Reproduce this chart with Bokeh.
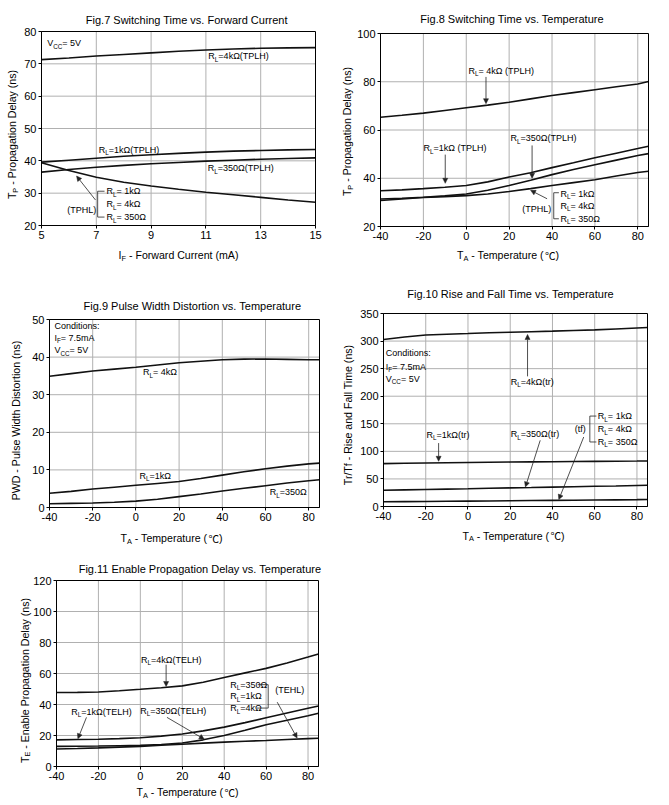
import re
from bokeh.plotting import figure
from bokeh.models import Range1d, FixedTicker, Label, Arrow, NormalHead, BoxAnnotation
from bokeh.layouts import column, row
from bokeh.embed import file_html
from bokeh.resources import INLINE

FONT = "Liberation Sans"
CJK = "Noto Sans CJK SC"

# ---------------- data ----------------
# Fig.7  (forward current, mA)
if_ma = [5, 6, 7, 8, 9, 10, 11, 12, 13, 14, 15]
f7_4k_tplh = [71.3, 71.8, 72.4, 72.9, 73.4, 73.9, 74.3, 74.6, 74.8, 74.95, 75.0]
f7_1k_tplh = [39.6, 40.2, 40.8, 41.4, 41.9, 42.3, 42.7, 43.0, 43.2, 43.4, 43.5]
f7_350_tplh = [36.5, 37.3, 38.0, 38.6, 39.1, 39.5, 39.9, 40.2, 40.5, 40.7, 40.9]
f7_tphl = [39.4, 37.0, 34.9, 33.4, 32.2, 31.2, 30.3, 29.5, 28.7, 27.9, 27.2]

# temperature axis (deg C) shared by Fig.8 - Fig.11
temp_c = [-40, -30, -20, -10, 0, 10, 20, 30, 40, 50, 60, 70, 80, 85]

# Fig.8
f8_4k_tplh = [65.3, 66.1, 67.0, 68.1, 69.2, 70.3, 71.5, 72.9, 74.3, 75.5, 76.7, 77.9, 79.1, 80.1]
f8_1k_tplh = [34.8, 35.2, 35.7, 36.3, 37.0, 38.5, 40.5, 42.3, 44.4, 46.4, 48.5, 50.4, 52.3, 53.3]
f8_350_tplh = [31.4, 31.7, 32.1, 32.7, 33.5, 35.0, 37.0, 39.2, 41.5, 43.6, 45.6, 47.5, 49.4, 50.2]
f8_tphl = [30.8, 31.4, 32.0, 32.4, 32.8, 33.5, 34.5, 35.7, 37.0, 38.2, 39.4, 40.9, 42.4, 42.9]

# Fig.9
f9_4k = [34.9, 35.6, 36.3, 36.8, 37.3, 37.9, 38.5, 38.9, 39.3, 39.45, 39.5, 39.4, 39.3, 39.3]
f9_1k = [3.8, 4.3, 4.9, 5.4, 5.9, 6.4, 6.9, 7.7, 8.6, 9.5, 10.3, 11.0, 11.6, 11.8]
f9_350 = [1.0, 1.1, 1.2, 1.4, 1.7, 2.2, 2.9, 3.6, 4.4, 5.1, 5.8, 6.5, 7.1, 7.4]

# Fig.10
f10_4k_tr = [302.8, 307.5, 311.0, 312.5, 313.7, 315.0, 316.0, 317.0, 318.0, 319.2, 320.3, 322.0, 323.8, 324.6]
f10_1k_tr = [77.8, 78.3, 78.8, 79.3, 79.8, 80.2, 80.6, 80.9, 81.2, 81.5, 81.8, 82.1, 82.4, 82.6]
f10_350_tr = [29.4, 30.1, 30.8, 31.5, 32.2, 33.0, 33.7, 34.4, 35.2, 35.9, 36.6, 37.3, 38.1, 38.5]
f10_tf = [8.5, 8.8, 9.1, 9.5, 9.8, 10.1, 10.5, 10.8, 11.1, 11.4, 11.7, 12.1, 12.5, 12.8]

# Fig.11
f11_4k_telh = [47.7, 47.8, 48.1, 48.9, 49.8, 50.8, 52.0, 54.3, 57.4, 60.4, 63.3, 66.8, 70.6, 72.6]
f11_1k_telh = [17.2, 17.4, 17.6, 18.0, 18.5, 19.6, 21.0, 23.0, 25.4, 28.3, 31.4, 34.5, 37.6, 39.0]
f11_350_telh = [13.0, 13.1, 13.2, 13.4, 13.6, 14.2, 15.2, 17.2, 20.0, 23.4, 26.9, 29.8, 32.8, 34.4]
f11_tehl = [11.3, 11.6, 12.0, 12.5, 13.0, 13.7, 14.4, 15.1, 15.7, 16.3, 16.8, 17.4, 18.0, 18.2]

# ticks
f7_xticks = [5, 7, 9, 11, 13, 15]
f7_yticks = [20, 30, 40, 50, 60, 70, 80]
temp_ticks = [-40, -20, 0, 20, 40, 60, 80]
f8_yticks = [20, 40, 60, 80, 100]
f9_yticks = [0, 10, 20, 30, 40, 50]
f10_yticks = [0, 50, 100, 150, 200, 250, 300, 350]
f11_yticks = [0, 20, 40, 60, 80, 100, 120]

# ---------------- helpers ----------------
W = {" ": .278, "!": .278, "(": .333, ")": .333, "-": .333, ".": .278, ":": .278, "=": .584,
     "/": .278, "A": .667, "C": .722, "D": .722, "E": .667, "F": .611, "H": .722, "I": .278,
     "L": .556, "P": .667, "R": .722, "S": .667, "T": .611, "V": .667, "W": .944,
     "a": .556, "b": .556, "c": .5, "d": .556, "e": .556, "f": .278, "g": .556, "h": .556,
     "i": .222, "k": .5, "l": .222, "m": .833, "n": .556, "o": .556, "p": .556, "r": .333,
     "s": .5, "t": .278, "u": .556, "v": .5, "w": .722, "y": .5, "Ω": .768, "℃": 1.0}


def tw(s, size):
    return sum(W.get(c, .556) for c in s) * size


def parse(s):
    parts, pos = [], 0
    for m in re.finditer(r"_\{([^}]*)\}", s):
        if m.start() > pos:
            parts.append((s[pos:m.start()], False))
        parts.append((m.group(1), True))
        pos = m.end()
    if pos < len(s):
        parts.append((s[pos:], False))
    # split off the CJK degree-Celsius sign so it can use a CJK font
    out = []
    for t, sub in parts:
        for piece in re.split(r"(℃)", t):
            if piece:
                out.append((piece, sub, CJK if piece == "℃" else FONT))
    return out


def rich(p, x, y, s, size=9.0, align="left", angle=0.0):
    parts = parse(s)
    ssize = size * 0.7
    drop = size * 0.33
    widths = [tw(t, ssize if sub else size) for t, sub, _ in parts]
    total = sum(widths)
    adv = -total / 2 if align == "center" else 0.0
    for (t, sub, font), w in zip(parts, widths):
        fs = ssize if sub else size
        lead = len(t) - len(t.lstrip(" "))
        a = adv + lead * W[" "] * fs
        txt = t.lstrip(" ")
        d = drop if sub else 0.0
        if angle:
            xo, yo = d, a
        else:
            xo, yo = a, -d
        if txt:
            p.add_layout(Label(x=x, y=y, x_offset=xo, y_offset=yo, text=txt, angle=angle,
                               text_font=font, text_font_size=f"{fs:.1f}px",
                               text_align="left", text_baseline="middle", text_color="black"))
        adv += w


def arrow(p, x0, y0, x1, y1):
    p.add_layout(Arrow(x_start=x0, y_start=y0, x_end=x1, y_end=y1, line_width=0.8,
                       line_color="#222",
                       end=NormalHead(size=5, fill_color="#222", line_color="#222", line_width=0.5)))


def seg(p, x0, y0, x1, y1):
    p.add_layout(Arrow(x_start=x0, y_start=y0, x_end=x1, y_end=y1, line_width=0.8,
                       line_color="#222", end=None))


class Panel:
    pass


def make(xr, yr, box, cell, xt, yt):
    bl, bt, bw, bh = box
    cw, ch = cell
    kx = bw / (xr[1] - xr[0])
    ky = bh / (yr[1] - yr[0])
    X = Range1d(xr[0] - bl / kx, xr[1] + (cw - bl - bw) / kx)
    Y = Range1d(yr[0] - (ch - bt - bh) / ky, yr[1] + bt / ky)
    p = figure(width=cw, height=ch, x_range=X, y_range=Y, min_border=0,
               toolbar_location=None, output_backend="svg", title=None)
    p.xaxis.ticker = FixedTicker(ticks=xt)
    p.yaxis.ticker = FixedTicker(ticks=yt)
    p.xaxis.fixed_location = yr[0]
    p.xaxis.bounds = xr
    p.yaxis.fixed_location = xr[0]
    p.yaxis.bounds = yr
    for ax in p.axis:
        ax.major_label_text_font = FONT
        ax.major_label_text_font_size = "11px"
        ax.major_label_text_color = "black"
        ax.major_tick_out = 3
        ax.major_tick_in = 0
        ax.minor_tick_out = 0
        ax.minor_tick_in = 0
        ax.major_label_standoff = 2
        ax.axis_line_color = "black"
        ax.major_tick_line_color = "black"
    p.xaxis.major_label_overrides = {t: str(t) for t in xt}
    p.yaxis.major_label_overrides = {t: str(t) for t in yt}
    p.grid.visible = False
    p.outline_line_color = None
    p.background_fill_color = "white"
    p.border_fill_color = "white"
    # grid lines at the tick values, inside the plotting box
    gx = [t for t in xt if xr[0] < t < xr[1]]
    gy = [t for t in yt if yr[0] < t < yr[1]]
    p.segment(x0=gx, y0=[yr[0]] * len(gx), x1=gx, y1=[yr[1]] * len(gx),
              line_color="#b0b0b0", line_width=1)
    p.segment(x0=[xr[0]] * len(gy), y0=gy, x1=[xr[1]] * len(gy), y1=gy,
              line_color="#b0b0b0", line_width=1)
    p.add_layout(BoxAnnotation(left=xr[0], right=xr[1], bottom=yr[0], top=yr[1],
                               fill_alpha=0, line_color="black", line_width=1,
                               line_alpha=1))
    info = Panel()
    info.xr, info.yr, info.bw, info.bh = xr, yr, bw, bh
    return p, info


def fpos(info, fx, fy):
    xr, yr = info.xr, info.yr
    return (xr[0] + fx * (xr[1] - xr[0]) / info.bw,
            yr[1] - fy * (yr[1] - yr[0]) / info.bh)


def decorate(p, info, title, tpos, xlab, xpos, ylab, ypos):
    x, y = fpos(info, *tpos)
    rich(p, x, y, title, size=11, align="center")
    x, y = fpos(info, *xpos)
    rich(p, x, y, xlab, size=10.6, align="center")
    x, y = fpos(info, *ypos)
    rich(p, x, y, ylab, size=10.6, align="center", angle=1.5707963267948966)


LW = 1.6
LC = "#111111"

# ---------------- Fig.7 ----------------
p7, i7 = make((5, 15), (20, 80), (41, 31, 274, 194), (335, 272), f7_xticks, f7_yticks)
for ys in (f7_4k_tplh, f7_1k_tplh, f7_350_tplh, f7_tphl):
    p7.line(if_ma, ys, line_width=LW, line_color=LC)
decorate(p7, i7, "Fig.7  Switching Time vs. Forward Current", (147, -11.7),
         "I_{F} - Forward Current (mA)", (137, 223.7), "T_{P} - Propagation Delay (ns)", (-29.5, 103))
rich(p7, 5.21, 76.4, "V_{CC}= 5V")
rich(p7, 11.09, 72.4, "R_{L}=4kΩ(TPLH)")
rich(p7, 7.09, 43.4, "R_{L}=1kΩ(TPLH)")
rich(p7, 11.07, 37.7, "R_{L}=350Ω(TPLH)")
rich(p7, 5.94, 24.9, "(TPHL)")
rich(p7, 7.37, 30.6, "R_{L}= 1kΩ")
rich(p7, 7.37, 26.5, "R_{L}= 4kΩ")
rich(p7, 7.37, 22.6, "R_{L}= 350Ω")
seg(p7, 7.05, 30.6, 7.05, 22.6)
seg(p7, 7.05, 30.6, 7.3, 30.6)
seg(p7, 7.05, 22.6, 7.3, 22.6)
arrow(p7, 6.97, 27.9, 6.28, 35.3)

# ---------------- Fig.8 ----------------
p8, i8 = make((-40, 85), (20, 100), (45, 33, 268, 193), (326, 272), temp_ticks, f8_yticks)
for ys in (f8_4k_tplh, f8_1k_tplh, f8_350_tplh, f8_tphl):
    p8.line(temp_c, ys, line_width=LW, line_color=LC)
decorate(p8, i8, "Fig.8  Switching Time vs. Temperature", (134, -14.7),
         "T_{A} - Temperature (℃)", (127.5, 221.7), "T_{P} - Propagation Delay (ns)", (-33.5, 98))
rich(p8, 1.0, 84.5, "R_{L}= 4kΩ (TPLH)")
arrow(p8, 9.2, 82.0, 9.2, 70.9)
rich(p8, -19.9, 52.5, "R_{L}=1kΩ (TPLH)")
arrow(p8, -9.8, 49.8, -9.8, 37.9)
rich(p8, 20.6, 56.5, "R_{L}=350Ω(TPLH)")
arrow(p8, 30.7, 53.6, 30.7, 40.0)
rich(p8, 26.1, 27.3, "(TPHL)")
arrow(p8, 37.7, 31.5, 30.0, 35.0)
seg(p8, 40.8, 34.0, 40.8, 23.2)
seg(p8, 40.8, 34.0, 43.2, 34.0)
seg(p8, 40.8, 23.2, 43.2, 23.2)
rich(p8, 43.9, 33.6, "R_{L}= 1kΩ")
rich(p8, 43.9, 28.5, "R_{L}= 4kΩ")
rich(p8, 43.9, 23.2, "R_{L}= 350Ω")

# ---------------- Fig.9 ----------------
p9, i9 = make((-40, 85), (0, 50), (49, 47, 270, 188), (335, 276), temp_ticks, f9_yticks)
for ys in (f9_4k, f9_1k, f9_350):
    p9.line(temp_c, ys, line_width=LW, line_color=LC)
decorate(p9, i9, "Fig.9 Pulse Width Distortion vs. Temperature", (143.5, -14),
         "T_{A} - Temperature (℃)", (122, 218.7), "PWD - Pulse Width Distortion (ns)", (-34, 101))
rich(p9, -37.7, 48.4, "Conditions:")
rich(p9, -37.7, 45.2, "I_{F}= 7.5mA")
rich(p9, -37.7, 41.8, "V_{CC}= 5V")
rich(p9, 3.3, 36.0, "R_{L}= 4kΩ")
rich(p9, 1.7, 8.5, "R_{L}=1kΩ")
rich(p9, 62.0, 4.1, "R_{L}=350Ω")

# ---------------- Fig.10 ----------------
p10, i10 = make((-40, 85), (0, 350), (48, 41, 264, 193), (326, 276), temp_ticks, f10_yticks)
for ys in (f10_4k_tr, f10_1k_tr, f10_350_tr, f10_tf):
    p10.line(temp_c, ys, line_width=LW, line_color=LC)
decorate(p10, i10, "Fig.10  Rise and Fall Time vs. Temperature", (129.5, -20),
         "T_{A} - Temperature (℃)", (130, 222), "Tr/Tf - Rise and Fall Time (ns)", (-36, 101))
rich(p10, -38.9, 278.6, "Conditions:")
rich(p10, -38.9, 253.0, "I_{F}= 7.5mA")
rich(p10, -38.9, 232.0, "V_{CC}= 5V")
rich(p10, 20.3, 226.0, "R_{L}=4kΩ(tr)")
arrow(p10, 28.2, 236.0, 28.2, 312.0)
rich(p10, -19.6, 130.0, "R_{L}=1kΩ(tr)")
arrow(p10, -13.9, 115.0, -13.9, 82.0)
rich(p10, 20.2, 131.0, "R_{L}=350Ω(tr)")
arrow(p10, 34.2, 120.0, 27.2, 35.5)
rich(p10, 50.5, 140.0, "(tf)")
seg(p10, 57.7, 164.0, 57.7, 117.0)
seg(p10, 57.7, 164.0, 60.8, 164.0)
seg(p10, 57.7, 117.0, 60.8, 117.0)
rich(p10, 61.5, 164.0, "R_{L}= 1kΩ")
rich(p10, 61.5, 140.0, "R_{L}= 4kΩ")
rich(p10, 61.5, 117.0, "R_{L}= 350Ω")
arrow(p10, 54.8, 126.0, 43.0, 12.5)

# ---------------- Fig.11 ----------------
p11, i11 = make((-40, 85), (0, 120), (56, 32, 262, 186), (335, 251), temp_ticks, f11_yticks)
for ys in (f11_4k_telh, f11_1k_telh, f11_350_telh, f11_tehl):
    p11.line(temp_c, ys, line_width=LW, line_color=LC)
decorate(p11, i11, "Fig.11  Enable Propagation Delay vs. Temperature", (146, -11.7),
         "T_{A} - Temperature (℃)", (131, 211.7), "T_{E} - Enable Propagation Delay (ns)", (-32, 100))
rich(p11, 0.3, 69.0, "R_{L}=4kΩ(TELH)")
arrow(p11, 12.3, 65.7, 12.3, 51.6)
rich(p11, -33.0, 35.3, "R_{L}=1kΩ(TELH)")
arrow(p11, -25.7, 31.7, -29.8, 17.9)
rich(p11, 0.0, 36.0, "R_{L}=350Ω(TELH)")
arrow(p11, 12.7, 31.7, 30.5, 17.6)
rich(p11, 42.9, 52.8, "R_{L}=350Ω")
rich(p11, 42.9, 45.2, "R_{L}=1kΩ")
rich(p11, 42.9, 37.7, "R_{L}=4kΩ")
seg(p11, 56.0, 52.8, 61.0, 52.8)
seg(p11, 61.0, 52.8, 61.0, 37.7)
seg(p11, 55.5, 37.7, 61.0, 37.7)
rich(p11, 64.4, 49.3, "(TEHL)")
arrow(p11, 65.3, 41.5, 74.8, 18.4)

layout = column(row(p7, p8), row(p9, p10), p11)
open("out.html", "w").write(file_html(layout, INLINE))
